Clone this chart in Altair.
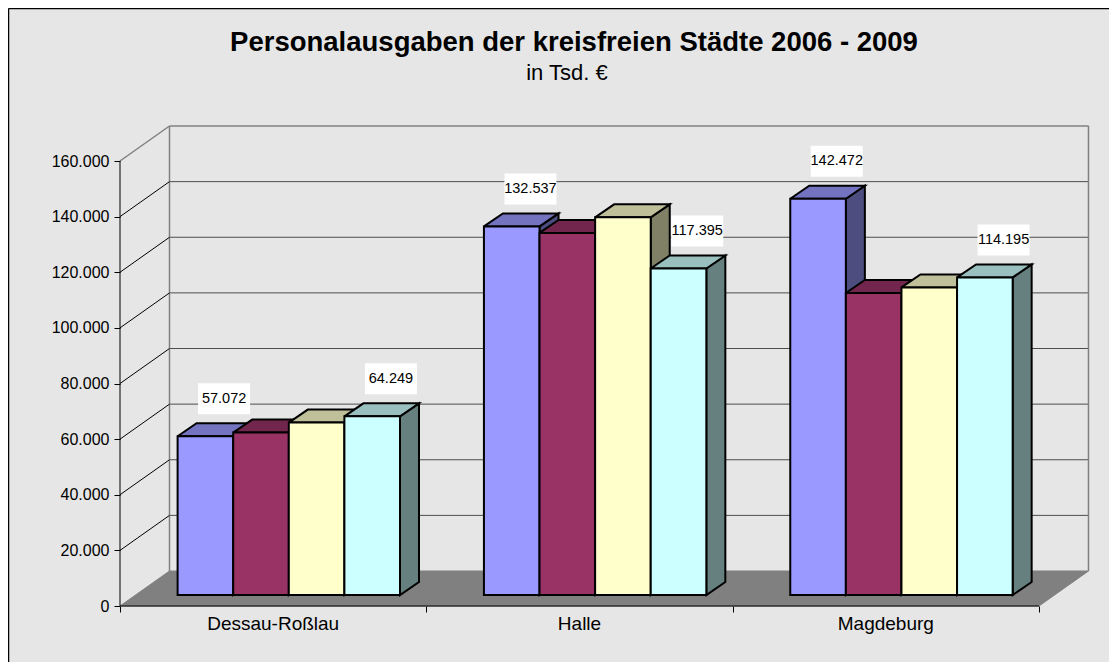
import altair as alt
import pandas as pd

cities = ["Dessau-Roßlau", "Halle", "Magdeburg"]
years = ["2006", "2007", "2008", "2009"]
v2006 = [57072, 132537, 142472]
v2007 = [58400, 130200, 108600]
v2008 = [62000, 135800, 110600]
v2009 = [64249, 117395, 114195]
tick_values = [0, 20000, 40000, 60000, 80000, 100000, 120000, 140000, 160000]
front_colors = ["#9999FF", "#993366", "#FFFFCC", "#CCFFFF"]
top_colors = ["#7373BF", "#73264D", "#BFBF99", "#99BFBF"]
side_colors = ["#4D4D80", "#4D1A33", "#808066", "#668080"]
labelled_years = [0, 3]

W, H = 1101, 654
PX_X = 306.33            # pixels per category
PX_Y = 445 / 160000      # pixels per unit of value
X0, Y0 = 112, 598        # plot position of the axes' origin


def ux(px):
    return px / PX_X


def uy(px):
    return px / PX_Y


xs = alt.Scale(domain=[ux(-X0), ux(W - X0)], nice=False, zero=False)
ys = alt.Scale(domain=[uy(Y0 - H), uy(Y0)], nice=False, zero=False)
x_axis_def = alt.Axis(
    values=[0, 1, 2, 3], orient="bottom", offset=Y0 - H, domain=False, grid=False, labels=False,
    tickColor="#000000", tickSize=6, tickWidth=1, title=None)
y_axis_def = alt.Axis(
    values=tick_values, orient="left", offset=-X0, domain=False, grid=False,
    tickColor="#000000", tickSize=6, tickWidth=1, labelPadding=5, title=None,
    labelFont="Liberation Sans", labelFontSize=16, labelColor="#000000",
    labelExpr="replace(format(datum.value, ','), ',', '.')")
X = lambda f="x": alt.X(f"{f}:Q", scale=xs, axis=x_axis_def)
Y = lambda f="y": alt.Y(f"{f}:Q", scale=ys, axis=y_axis_def)

bar_w = ux(55.6)
bar_start = ux(57.6)
base = uy(11)
dx, dy = ux(19), uy(13)
wall_x, wall_y = ux(49.5), uy(35)


def polygon(points, **keys):
    return [dict(seq=k, x=p[0], y=p[1], **keys) for k, p in enumerate(points + points[:1])]


all_values = [v2006, v2007, v2008, v2009]
front, top, side, labels = [], [], [], []
for i, vals in enumerate(all_values):
    for c, v in enumerate(vals):
        x0 = c + bar_start + i * bar_w
        x1 = x0 + bar_w
        t = base + v
        front.append(dict(s=i, c=c, x=x0, x2=x1, y=base, y2=t))
        top += polygon([(x0, t), (x1, t), (x1 + dx, t + dy), (x0 + dx, t + dy)], s=i, c=c)
        side += polygon([(x1, t), (x1 + dx, t + dy), (x1 + dx, base + dy), (x1, base)], s=i, c=c)
        if i in labelled_years:
            cx = x0 + ux(46.5)
            cy = t + uy(37.5)
            labels.append(dict(x=cx, x1=cx - ux(26), x2=cx + ux(26), y=cy, y1=cy - uy(15.5), y2=cy + uy(15.5),
                               text=f"{v:,}".replace(",", ".")))

front, top, side = map(pd.DataFrame, (front, top, side))
labels = pd.DataFrame(labels)

# floor
floor = pd.DataFrame(polygon([(0, 0), (3, 0), (3 + wall_x, wall_y), (wall_x, wall_y)]))
floor_layer = alt.Chart(floor).mark_line(fill="#808080", stroke="#808080", strokeWidth=1).encode(
    x=X(), y=Y(), order=alt.Order("seq:Q"))

# gridlines on the back wall
back = pd.DataFrame([dict(x=wall_x, x2=3 + wall_x, y=v + wall_y) for v in tick_values[1:-1]])
back_grid = alt.Chart(back).mark_rule(color="#4d4d4d", strokeWidth=1).encode(x=X(), x2="x2:Q", y=Y())
top_line = pd.DataFrame([dict(x=wall_x, x2=3 + wall_x, y=tick_values[-1] + wall_y)])
top_rule = alt.Chart(top_line).mark_rule(color="#808080", strokeWidth=1.5).encode(x=X(), x2="x2:Q", y=Y())
walls = pd.DataFrame([dict(x=wall_x + k, y=wall_y, y2=tick_values[-1] + wall_y) for k in (0, 3)])
wall_rules = alt.Chart(walls).mark_rule(color="#808080", strokeWidth=1.5).encode(x=X(), y=Y(), y2="y2:Q")

# diagonals on the side wall
diag = []
for v in tick_values:
    diag.append(dict(v=v, x=0, y=v))
    diag.append(dict(v=v, x=wall_x, y=v + wall_y))
diag = pd.DataFrame(diag)
diag_lines = alt.Chart(diag[diag.v.between(1, tick_values[-2])]).mark_line(color="#000000", strokeWidth=1).encode(
    x=X(), y=Y(), detail="v:N", order=alt.Order("x:Q"))
diag_top = alt.Chart(diag[diag.v == tick_values[-1]]).mark_line(color="#808080", strokeWidth=1.5).encode(
    x=X(), y=Y(), order=alt.Order("x:Q"))

# axis lines
y_axis = alt.Chart(pd.DataFrame(dict(x=[0], y=[0], y2=[tick_values[-1]]))).mark_rule(
    color="#000000", strokeWidth=1).encode(x=X(), y=Y(), y2="y2:Q")
x_axis = alt.Chart(pd.DataFrame(dict(x=[0], x2=[3], y=[0]))).mark_rule(color="#000000", strokeWidth=1).encode(
    x=X(), x2="x2:Q", y=Y())

cat = pd.DataFrame(dict(x=[c + 0.5 for c in range(3)], y=[uy(-17.5)] * 3, text=cities))
cat_text = alt.Chart(cat).mark_text(font="Liberation Sans", fontSize=19, color="#000000", baseline="middle").encode(
    x=X(), y=Y(), text="text:N")

# chart border (left and top only: the picture runs off the other two sides)
border = pd.DataFrame([dict(x=ux(-X0 + 0.5), y=uy(Y0 - 0.5), y2=uy(Y0 - H), x2=ux(W - X0))])
b1 = alt.Chart(border).mark_rule(color="#000000", strokeWidth=1.5).encode(x=X(), y=Y(), y2="y2:Q")
b2 = alt.Chart(border).mark_rule(color="#000000", strokeWidth=1.5).encode(x=X(), x2="x2:Q", y=Y())

# titles
titles = pd.DataFrame(dict(x=[ux(574 - 120)], y=[uy(606 - 43)], text=["Personalausgaben der kreisfreien Städte 2006 - 2009"]))
title_text = alt.Chart(titles).mark_text(font="Liberation Sans", fontSize=27.5, fontWeight="bold", color="#000000",
                                         baseline="middle").encode(x=X(), y=Y(), text="text:N")
subs = pd.DataFrame(dict(x=[ux(567 - 120)], y=[uy(606 - 73)], text=["in Tsd. €"]))
sub_text = alt.Chart(subs).mark_text(font="Liberation Sans", fontSize=22, color="#000000",
                                     baseline="middle").encode(x=X(), y=Y(), text="text:N")

layers = [b1, b2, floor_layer, back_grid, top_rule, wall_rules, diag_lines, diag_top, x_axis, y_axis]
for i in range(4):
    s_side = alt.Chart(side[side.s == i]).mark_line(
        fill=side_colors[i], stroke="#000000", strokeWidth=2).encode(
        x=X(), y=Y(), detail="c:N", order=alt.Order("seq:Q"))
    s_top = alt.Chart(top[top.s == i]).mark_line(
        fill=top_colors[i], stroke="#000000", strokeWidth=2).encode(
        x=X(), y=Y(), detail="c:N", order=alt.Order("seq:Q"))
    s_front = alt.Chart(front[front.s == i]).mark_rect(
        color=front_colors[i], stroke="#000000", strokeWidth=2).encode(
        x=X(), x2="x2:Q", y=Y(), y2="y2:Q")
    layers += [s_side, s_top, s_front]

boxes = alt.Chart(labels).mark_rect(color="#FFFFFF").encode(
    x=X("x1"), x2="x2:Q", y=Y("y1"), y2="y2:Q")
box_text = alt.Chart(labels).mark_text(font="Liberation Sans", fontSize=14.5, color="#000000", baseline="middle").encode(
    x=X(), y=Y(), text="text:N")
layers += [boxes, box_text, cat_text, title_text, sub_text]

chart = alt.layer(*layers).properties(
    width=W, height=H, padding=0, autosize=alt.AutoSizeParams(type="none"),
    view=alt.ViewConfig(fill="#E6E6E6", stroke=None),
).configure(background="#FFFFFF")

chart.save("out.html", embed_options={"renderer": "svg", "actions": False})
